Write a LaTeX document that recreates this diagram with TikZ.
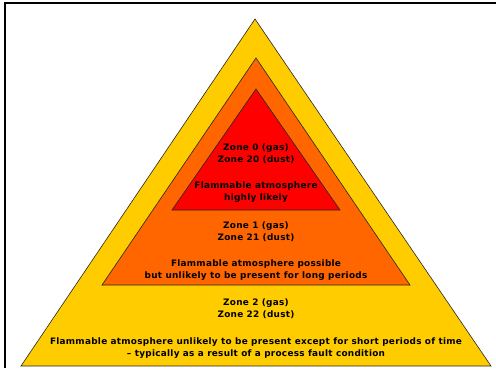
\documentclass[tikz,border=0pt]{standalone}
\usepackage{fontspec}
\setmainfont{DejaVu Sans}[LetterSpace=3]
\usetikzlibrary{positioning}
\definecolor{zoneyellow}{HTML}{FFCC00}
\definecolor{zoneorange}{HTML}{FF6600}
\definecolor{zonered}{HTML}{FF0000}
\tikzset{
    zonetri/.style={
        draw=black!85,
        line width=0.6pt,
        line join=miter,
    },
    zonetext/.style={
        align=center,
        inner sep=0pt,
        font=\fontsize{8.9}{12}\selectfont\bfseries,
        text=black,
    },
    frameline/.style={
        line width=2pt,
        draw=black,
    }
}
\begin{document}
\begin{tikzpicture}[x=1pt,y=-1pt]
    \useasboundingbox (0,0) rectangle (496,368);
    % frame
    \draw[frameline] (5,368) -- (5,3) -- (496,3);
    % triangles, outer to inner
    \filldraw[zonetri,fill=zoneyellow] (21,366) -- (255,19) -- (491,366) -- cycle;
    \filldraw[zonetri,fill=zoneorange] (102,285) -- (256,58) -- (410,285) -- cycle;
    \filldraw[zonetri,fill=zonered] (172,210) -- (256,89) -- (340,210) -- cycle;
    % texts
    \node[zonetext] (zone0) at (256,154) {Zone 0 (gas)\\Zone 20 (dust)};
    \node[zonetext] (desc0) at (256,192.5) {Flammable atmosphere\\highly likely};
    \node[zonetext] (zone1) at (256,231.5) {Zone 1 (gas)\\Zone 21 (dust)};
    \node[zonetext] (desc1) at (256,270) {Flammable atmosphere possible\\but unlikely to be present for long periods};
    \node[zonetext] (zone2) at (256,309) {Zone 2 (gas)\\Zone 22 (dust)};
    \node[zonetext] (desc2) at (256,348) {Flammable atmosphere unlikely to be present except for short periods of time\\-- typically as a result of a process fault condition};
\end{tikzpicture}
\end{document}
